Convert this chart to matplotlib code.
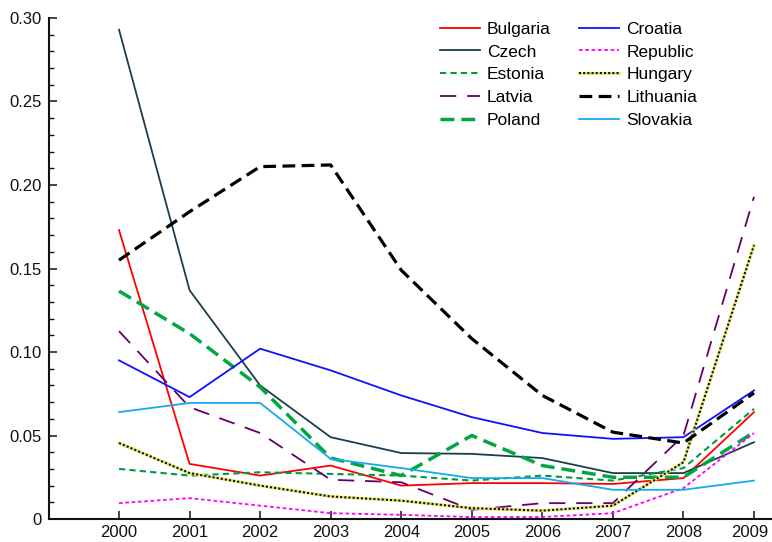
import matplotlib
matplotlib.use('Agg')
import matplotlib.pyplot as plt
import matplotlib.transforms as mtransforms
from matplotlib.ticker import MultipleLocator, FixedLocator
from matplotlib.legend_handler import HandlerTuple

plt.rcParams['font.family'] = ['Liberation Sans Narrow', 'Liberation Sans', 'DejaVu Sans']

years = [2000, 2001, 2002, 2003, 2004, 2005, 2006, 2007, 2008, 2009]

bulgaria = [0.173, 0.033, 0.026, 0.032, 0.020, 0.0215, 0.0215, 0.021, 0.0245, 0.064]
czech = [0.293, 0.137, 0.080, 0.049, 0.0395, 0.039, 0.0365, 0.0275, 0.0275, 0.046]
estonia = [0.030, 0.026, 0.028, 0.027, 0.026, 0.023, 0.026, 0.023, 0.0305, 0.066]
latvia = [0.1125, 0.067, 0.0515, 0.0235, 0.022, 0.0055, 0.0095, 0.0095, 0.050, 0.193]
poland = [0.1365, 0.111, 0.079, 0.0365, 0.026, 0.050, 0.032, 0.025, 0.025, 0.052]
croatia = [0.095, 0.073, 0.102, 0.089, 0.074, 0.061, 0.0515, 0.048, 0.049, 0.077]
republic = [0.0095, 0.0125, 0.008, 0.0035, 0.0025, 0.0012, 0.0012, 0.0035, 0.0185, 0.0515]
hungary = [0.0455, 0.0275, 0.020, 0.0135, 0.011, 0.0065, 0.005, 0.008, 0.034, 0.164]
lithuania = [0.155, 0.184, 0.211, 0.212, 0.149, 0.108, 0.074, 0.052, 0.0455, 0.0755]
slovakia = [0.064, 0.0695, 0.0695, 0.036, 0.0305, 0.0245, 0.0245, 0.0175, 0.0175, 0.023]

fig = plt.figure(figsize=(7.72, 5.42), dpi=100)
ax = fig.add_axes([0.0635, 0.0424, 0.9365, 0.9244])

h_bul, = ax.plot(years, bulgaria, color='#ff0000', lw=1.3)
h_cze, = ax.plot(years, czech, color='#1c3d4c', lw=1.3)
h_est, = ax.plot(years, estonia, color='#009940', lw=1.5, dashes=(3, 2))
h_lat, = ax.plot(years, latvia, color='#660066', lw=1.3, dashes=(9, 6))
h_pol, = ax.plot(years, poland, color='#00a640', lw=2.5, dashes=(4, 2))
h_cro, = ax.plot(years, croatia, color='#1010ff', lw=1.3)
h_rep, = ax.plot(years, republic, color='#ff00ff', lw=1.3, dashes=(2, 1.5))
h_hun_y, = ax.plot(years, hungary, color='#e8e870', lw=2.2)
h_hun_k, = ax.plot(years, hungary, color='#111111', lw=1.5, dashes=(1, 1))
h_lit, = ax.plot(years, lithuania, color='#000000', lw=2.3, dashes=(4, 2))
h_slo, = ax.plot(years, slovakia, color='#14aaf0', lw=1.3)

ax.set_xlim(1999.008, 2009.255)
ax.set_ylim(0, 0.30)

ax.xaxis.set_major_locator(FixedLocator(years))
ax.set_yticks([0, 0.05, 0.10, 0.15, 0.20, 0.25, 0.30])
ax.set_yticklabels(['0', '0.05', '0.10', '0.15', '0.20', '0.25', '0.30'])
ax.yaxis.set_minor_locator(MultipleLocator(0.01))

for s in ['top', 'right']:
    ax.spines[s].set_visible(False)
for s in ['left', 'bottom']:
    ax.spines[s].set_linewidth(1.5)
    ax.spines[s].set_color('#111111')

ax.tick_params(axis='both', which='major', direction='in', length=5.5, width=1.1,
               labelsize=12, colors='#111111')
ax.tick_params(axis='y', which='minor', direction='in', length=3.5, width=1.0, colors='#111111')
ax.tick_params(axis='x', pad=4)
ax.tick_params(axis='y', pad=5)

# last year label would run past the right edge, nudge it left a little
last = ax.get_xticklabels()[-1]
last.set_transform(last.get_transform() + mtransforms.ScaledTranslation(-4 / 100, 0, fig.dpi_scale_trans))

handles = [h_bul, h_cze, h_est, h_lat, h_pol, h_cro, h_rep, (h_hun_y, h_hun_k), h_lit, h_slo]
labels = ['Bulgaria', 'Czech', 'Estonia', 'Latvia', 'Poland',
          'Croatia', 'Republic', 'Hungary', 'Lithuania', 'Slovakia']
ax.legend(handles, labels, ncol=2, frameon=False, fontsize=12.5,
          loc='upper left', bbox_to_anchor=(0.519, 1.024),
          handlelength=2.3, handletextpad=0.4, columnspacing=1.65,
          labelspacing=0.44, handler_map={tuple: HandlerTuple(ndivide=1, pad=0)})

fig.savefig('out.png', dpi=100)
